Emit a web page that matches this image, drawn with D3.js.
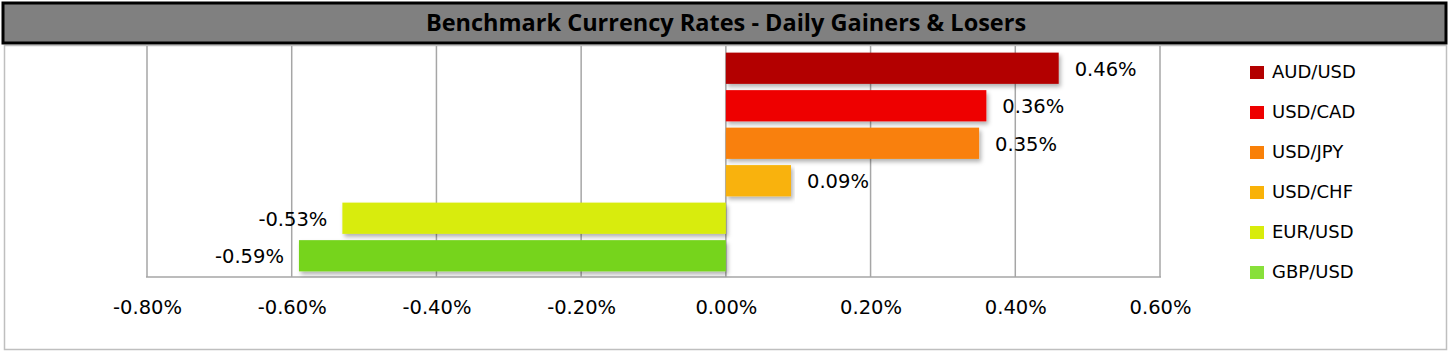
<!DOCTYPE html>
<html><head><meta charset="utf-8">
<script src="https://cdn.jsdelivr.net/npm/d3@7"></script>
<style>
body{margin:0;background:#fff;}
svg{display:block;font-family:"DejaVu Sans",sans-serif;}
</style></head>
<body><svg id="c" width="1452" height="355"></svg>
<script>
const titleText = "Benchmark Currency Rates - Daily Gainers & Losers";
const pairs = ["AUD/USD","USD/CAD","USD/JPY","USD/CHF","EUR/USD","GBP/USD"];
const changes = [0.46, 0.36, 0.35, 0.09, -0.53, -0.59];
const colors = ["#B30000","#EE0000","#F98008","#F9B208","#D8EC0B","#76D41E"];
const legendColors = ["#B30000","#EE0000","#F98008","#F9B208","#D8EC0B","#88E03A"];
const tickValues = [-0.8,-0.6,-0.4,-0.2,0,0.2,0.4,0.6];

const pct = v => d3.format(".2f")(v).replace("\u2212","-") + "%";
const FONT = "'DejaVu Sans',sans-serif";

const svg = d3.select("#c");
const defs = svg.append("defs");
const f = defs.append("filter").attr("id","sh").attr("x","-5%").attr("y","-20%").attr("width","110%").attr("height","160%");
f.append("feDropShadow").attr("dx",2).attr("dy",3).attr("stdDeviation",2).attr("flood-color","#000").attr("flood-opacity",0.3);

// outer chart border
svg.append("rect").attr("x",4.5).attr("y",45.5).attr("width",1442).attr("height",304)
  .attr("fill","#fff").attr("stroke","#BFBFBF").attr("stroke-width",1.5);

// title bar
svg.append("rect").attr("x",3).attr("y",3).attr("width",1443).attr("height",40)
  .attr("fill","#808080").attr("stroke","#000").attr("stroke-width",3);
svg.append("text").attr("x",726).attr("y",25).attr("dominant-baseline","middle").attr("text-anchor","middle")
  .attr("font-family","'Open Sans','Noto Sans',sans-serif")
  .attr("font-size",23.5).attr("font-weight","bold").attr("fill","#000").text(titleText);

const x = d3.scaleLinear().domain([-0.8,0.6]).range([147,1160]);
const y = d3.scaleBand().domain(pairs).range([47,277]).paddingInner(0.167).paddingOuter(0.15);

// gridlines
svg.append("g").selectAll("line").data(tickValues).join("line")
  .attr("x1",d=>x(d)).attr("x2",d=>x(d)).attr("y1",46).attr("y2",277)
  .attr("stroke","#A6A6A6").attr("stroke-width",1.5);
svg.append("line").attr("x1",146).attr("x2",1161).attr("y1",277).attr("y2",277).attr("stroke","#A6A6A6").attr("stroke-width",1.5);

// axis
const ax = svg.append("g").attr("transform","translate(0,277)")
  .call(d3.axisBottom(x).tickValues(tickValues).tickSize(0).tickPadding(23).tickFormat(pct));
ax.select(".domain").remove();
ax.selectAll("text").attr("font-size",19.5).attr("fill","#000").attr("font-family",FONT);

// bars
svg.append("g").selectAll("rect").data(pairs).join("rect")
  .attr("x",(d,i)=>x(Math.min(0,changes[i])))
  .attr("width",(d,i)=>Math.abs(x(changes[i])-x(0)))
  .attr("y",d=>y(d)).attr("height",y.bandwidth())
  .attr("fill",(d,i)=>colors[i]).attr("filter","url(#sh)");

// labels
svg.append("g").selectAll("text").data(pairs).join("text")
  .attr("x",(d,i)=>changes[i]>=0 ? x(changes[i])+16 : x(changes[i])-15)
  .attr("y",d=>y(d)+y.bandwidth()/2+2)
  .attr("dominant-baseline","middle")
  .attr("text-anchor",(d,i)=>changes[i]>=0?"start":"end")
  .attr("font-size",19.5).attr("fill","#000").attr("font-family",FONT)
  .text((d,i)=>pct(changes[i]));

// legend
const lg = svg.append("g").selectAll("g").data(pairs).join("g")
  .attr("transform",(d,i)=>`translate(1250,${72+i*40})`);
lg.append("rect").attr("x",0).attr("y",-6).attr("width",14).attr("height",13).attr("fill",(d,i)=>legendColors[i]);
lg.append("text").attr("x",22).attr("y",1).attr("dominant-baseline","middle").attr("font-size",18).attr("font-family",FONT).attr("fill","#000").text(d=>d);
</script></body></html>
